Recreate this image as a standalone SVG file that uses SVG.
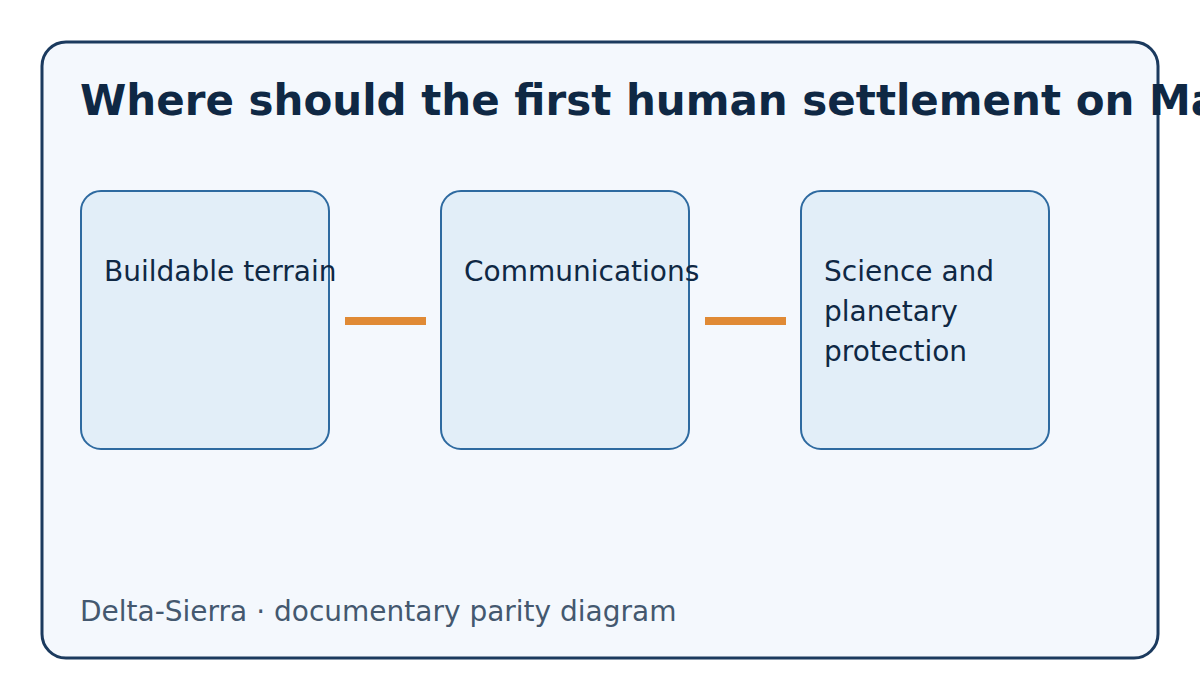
<svg xmlns="http://www.w3.org/2000/svg" width="1200" height="700" viewBox="0 0 1200 700">
<style>
.box{fill:#e2eef8;stroke:#2e6aa0;stroke-width:2}
.lbl{font-family:"DejaVu Sans",sans-serif;font-size:28px;fill:#0f2844}
.con{stroke:#e08a35;stroke-width:8}
</style>
<rect width="1200" height="700" fill="#ffffff"/>
<rect x="42" y="42" width="1116" height="616" rx="24" fill="#f4f8fd" stroke="#1b3a5e" stroke-width="3"/>
<text x="80" y="115" font-family="DejaVu Sans,sans-serif" font-size="42" font-weight="bold" fill="#0f2844">Where should the first human settlement on Mars be?</text>
<g id="connectors">
<line class="con" x1="345" y1="321" x2="426" y2="321"/>
<line class="con" x1="705" y1="321" x2="786" y2="321"/>
</g>
<g id="n1"><rect class="box" x="81" y="191" width="248" height="258" rx="20"/><text class="lbl" x="104" y="281">Buildable terrain</text></g>
<g id="n2"><rect class="box" x="441" y="191" width="248" height="258" rx="20"/><text class="lbl" x="464" y="281">Communications</text></g>
<g id="n3"><rect class="box" x="801" y="191" width="248" height="258" rx="20"/><text class="lbl" x="824" y="281">Science and</text><text class="lbl" x="824" y="321">planetary</text><text class="lbl" x="824" y="361">protection</text></g>
<text x="80" y="621" font-family="DejaVu Sans,sans-serif" font-size="28" fill="#44586f">Delta-Sierra · documentary parity diagram</text>
</svg>
